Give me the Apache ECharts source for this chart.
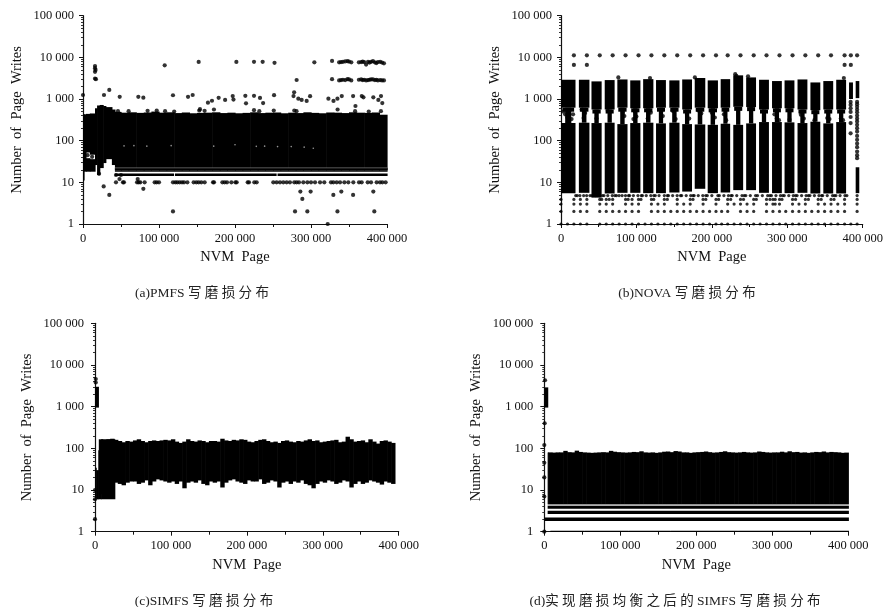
<!DOCTYPE html>
<html><head><meta charset="utf-8">
<script src="https://cdn.jsdelivr.net/npm/echarts@6/dist/echarts.min.js"></script>
<style>html,body{margin:0;padding:0;background:#fff}#c{width:886px;height:607px;filter:blur(0.35px)}</style>
</head><body><div id="c"></div>
<script>
const xTicks = {0:'0',100000:'100 000',200000:'200 000',300000:'300 000',400000:'400 000'};
const yTicks = {1:'1',10:'10',100:'100',1000:'1 000',10000:'10 000',100000:'100 000'};
const captions = ['(a)PMFS 写 磨 损 分 布','(b)NOVA 写 磨 损 分 布','(c)SIMFS 写 磨 损 分 布','(d)实 现 磨 损 均 衡 之 后 的 SIMFS 写 磨 损 分 布'];

/* ---------- (a) PMFS : [xStart,xEnd,low,high] ---------- */
const pmfsTopX40k = [490,470,480,465,475,500,470,480,460,475,455,465,470,480,460,470,455,465,480,460,470,475,455,470,460,480,465,455,475,470,460,480,470,465,475,420];
const pmfsLeftBands = [[0,1300,11,430],[1300,3900,18,430],[3900,9000,18,38],[3900,9000,52,440],[9000,15800,18,36],[9000,15800,46,450],
 [15800,18500,26,600],[18500,22000,15,700],[22000,26500,22,720],[26500,30000,29,680],[30000,38000,36,640],[38000,42000,26,560]];
const pmfsLowBands = [[42000,400000,19.3,22],[42000,400000,17.7,18.4],[42000,119000,14.1,16.3],[121000,254000,14.1,16.3],[256000,400000,14.1,16.3]];
const pmfsGrayBands = [[42000,400000,21.7,22.7]];
const pmfsDots = [[0,1250],[15800,6200],[15800,5500],[15800,4500],[16500,5000],[15800,3100],[17000,3000],[27600,1250],[34600,1650],[48300,1130],[72800,1130],[79400,1080],[107500,6450],[118400,1230],[138200,1130],[144300,1250],[152200,7750],[153900,570],[164400,815],[169700,910],[172300,560],[178500,1070],[187000,950],[197000,1180],[198000,970],[201800,7750],[225000,7800],[236400,7800],[252000,7400],[304400,7600],[327700,8200],[281100,2860],[327700,3000],[213600,1190],[214500,790],[225000,1190],[232900,1060],[237000,800],[251400,1240],[277800,1450],[277000,1180],[283300,1020],[287700,950],[294300,900],[298800,1170],[322900,1020],[329600,900],[334800,1020],[340500,1180],[355400,1180],[366800,1180],[369000,1100],[382000,1100],[388600,950],[392100,1180],[393800,800],[358500,680],
 [337000,7600],[339500,7700],[342000,7800],[345000,8000],[348000,8100],[350000,7900],[353000,7600],[363000,7600],[366000,7700],[368000,7900],[370000,7700],[372500,6700],[375000,7800],[377000,7500],[379000,7800],[381500,8100],[384000,7600],[386000,7300],[388000,7700],[391000,7800],[393500,7500],[396000,7200],
 [337000,2800],[339500,2850],[342000,2900],[345000,2850],[348000,3000],[350000,2950],[353000,2800],[363000,2900],[366000,2950],[368000,2850],[370000,2900],[372500,2800],[375000,2850],[377000,2900],[379000,2950],[381500,2950],[384000,2850],[386000,2900],[388000,2800],[391000,2850],[393500,2800],[396000,2800],
 [27200,8],[34600,5],[79400,7],[118400,2],[21100,16],[48000,12],[43400,15],[50000,15],[72000,12],[286000,6],[299500,6],[288600,4],[329400,5],[339900,6],[355400,5],[382000,6],[279000,2],[295200,2],[334800,2],[383300,2],[322000,1],
 [6000,45],[12000,41],
 [46000,510],[60000,510],[85000,520],[97000,530],[108000,510],[120000,500],[153000,530],[160000,520],[225000,540],[232000,510],[251000,530],[278000,530],[281000,510],[335000,560],[358000,510],[376000,500],[392000,510]];
const pmfsTenRowX = [43400,52600,53900,71100,73200,75400,81100,94300,96900,100000,118400,121500,124100,127200,130300,132900,137300,145600,149100,152200,155700,160100,171100,172400,183400,186400,189500,195200,200500,202200,216700,218400,225400,228500,250400,254800,259200,263600,268000,272300,278000,281100,284200,289900,295200,300000,305300,311900,317500,326300,329400,333800,338200,343900,349100,355700,363200,366700,374600,379000,386400,390800,393900,398200];
const pmfsSpecks = [[54000,75],[67000,76],[84000,74],[116000,76],[172000,74],[200000,80],[228000,73],[239000,74],[256000,72],[274000,72],[291000,70],[303000,66]];

/* ---------- (b) NOVA ---------- */
const novaStart = [0,23700,40400,57960,74700,91800,108900,126000,143600,160700,177300,194500,211700,228400,245500,262600,279800,296400,313600,330700,347800,364900];
const novaEnd   = [18440,36900,53100,70300,87400,104500,121700,138300,156300,172900,190500,207300,223500,240700,257800,274900,292000,308700,325900,343000,360100,377200];
const novaTop   = [2900,2900,2650,2850,2950,2800,3000,2850,2800,2950,3200,2800,3000,3700,3300,2900,2700,2800,2950,2500,2700,2900];
const novaBase  = [5.5,5.6,4.3,5.4,5.6,5.6,5.5,5.5,5.7,6,7,5.5,5.7,6.5,6.5,5.6,5.5,5.5,5.6,5.4,5.4,5.4];
const novaGapLow  = [265,270,265,270,250,265,270,260,270,250,245,240,255,240,260,280,280,275,265,285,260,280];
const novaGapHigh = [620,620,560,560,620,600,600,620,620,560,620,600,620,650,640,560,600,600,560,540,560,560];
const novaTailBands = [[381900,386300,1000,2500],[390700,394700,1050,2700],[390700,394700,5.5,23]];
const novaTopRowX = [17100,34300,51400,68500,85600,102800,119900,137000,154100,171300,188400,205500,221000,238000,255500,272500,289700,307000,324000,341000,358000,376000,384300,392600];
const novaSecondRowX = [17100,34300,376000,384300];
const novaTailDots = [[384000,850],[384000,720],[384000,600],[384000,490],[384000,370],[384000,265],[384000,150],
 [392600,850],[392600,750],[392600,650],[392600,560],[392600,480],[392600,400],[392600,340],[392600,290],[392600,240],[392600,200],[392600,165],[392600,130],[392600,105],[392600,85],[392600,70],[392600,55],[392600,45],[392600,38]];
const novaPeakDots = [[76000,3300],[231000,3950],[232500,3600],[248000,3500],[177500,3300],[118000,3200],[375000,3200]];
const novaGapDots = [[3000,500],[5500,430],[8500,360],[9000,520],[14000,330],[16000,430],[27500,560],[32000,460],[30000,350],[47000,340],[62000,520],[82000,470],[84000,390],[98000,500],[100000,380],[96000,330],[115000,340],[119000,470],[133000,510],[135000,390],[152000,330],[148000,520],[167000,420],[170000,340],[182000,530],[186000,450],[200000,470],[204000,360],[216000,430],[219000,310],[252000,330],[268000,500],[283000,430],[286000,340],[289000,310],[303000,320],[318000,420],[322000,340],[336000,310],[353000,350],[356000,330],[371000,340],[374000,310]];
const novaRow1X = [0,8600,17100,25700,34300,51400,60000,68500,77100,85600,94200,102800,111400,119900,128500,137000,145600,154100,162700,171300,179800,188400,197000,205500,213000,221000,229500,238000,246700,255500,264000,272500,281000,289700,298000,307000,315500,324000,332500,341000,349500,358000,367000,376000,384300,392600];
const novaRow2X = [0,17100,25700,34300,51400,60000,68500,77100,85600,94200,102800,119900,128500,137000,145600,154100,162700,171300,179800,188400,197000,205500,213000,221000,238000,246700,255500,272500,281000,289700,298000,307000,315500,324000,332500,341000,349500,358000,367000,376000,392600];
const novaRow3X = [0,17100,25700,34300,51400,60000,68500,85600,94200,102800,119900,128500,137000,154100,162700,171300,188400,205500,221000,229500,238000,246700,255500,272500,281000,284000,289700,307000,315500,324000,341000,349500,358000,367000,376000,392600];
const novaRow4X = [0,17100,25700,34300,51400,54000,60000,64000,68500,85600,89000,94200,102800,106000,119900,123000,137000,141000,154100,171300,175000,188400,192000,205500,209000,221000,225000,238000,242000,255500,259000,272500,277000,281000,284000,289700,293000,307000,311000,324000,328000,341000,345000,358000,362000,376000,392600];
const novaRow5X = [19500,21500,25000,30000,34000,38500,41000,46000,51000,55000,57000,62000,68000,71500,73500,77000,81000,85500,89500,91000,96000,102000,106500,108000,113000,119000,123000,125000,130000,137000,141000,142500,148000,154000,158500,160000,166000,172000,175000,176500,182000,188000,192000,194000,200000,208000,210000,216000,222000,225500,227000,233000,240000,243000,245000,251000,258000,260500,267000,274000,277000,279000,285000,291000,294000,296000,302000,308000,311000,313000,319000,325000,328000,330000,336000,342000,345500,347000,353000,360000,362500,364500,370000,376500,379000,392600];

/* ---------- (c) SIMFS ---------- */
const simfsTop = [165,160,165,170,160,150,140,150,145,155,165,150,140,150,155,150,155,160,155,165,145,135,145,165,150,145,155,150,140,150,150,145,170,155,150,160,155,165,160,145,140,150,160,165,150,140,145,135,150,155,145,140,150,145,155,165,150,155,140,145,150,155,160,140,145,190,165,145,150,155,140,165,145,130,150,155,145,135];
const simfsBottom = [15,14,13,15,16,16,14,15,17,13,16,18,17,16,15,16,14,16,11,15,16,15,17,14,13,16,15,16,11.5,15,17,18,16,15,14,17,16,16,18,14,15,17,16,11.5,15,16,14,16,15,17,14,13,11,14,16,15,17,16,14,15,17,16,11.5,14,16,14,15,17,16,15,13.5,16,15,14,15,18,17,19,20];
const simfsLeftBands = [[0,1500,6.4,34],[1500,4400,6,30],[4400,8000,6,90],[8000,26000,6,165],[0,4400,950,3000]];
const simfsDots = [[1000,4600],[1000,3800],[0,2],[0,6],[0,10]];

/* ---------- (d) SIMFS after wear levelling ---------- */
const levelTop = [80,80,79,80,80,87,81,80,88,82,80,79,78,79,80,81,80,87,83,81,80,79,80,82,81,85,80,79,80,78,80,83,84,81,86,84,80,80,78,80,81,82,84,81,79,80,82,85,81,80,79,80,82,80,79,80,84,82,80,79,80,80,83,80,85,81,82,79,80,78,80,82,81,84,80,82,81,80,78];
const levelBaseBands = [[4400,400000,3.55,4.2],[4400,400000,2.65,3.2],[0,400000,1.8,2.2],[0,4400,950,2900],
 [8000,52000,0.98,1.05],[53000,110000,0.98,1.05],[111000,165000,0.98,1.05],[166000,254000,0.98,1.05],[255000,400000,0.98,1.05]];
const levelGrayBands = [[4400,400000,4.3,4.55]];
const levelDots = [[1000,4300],[500,400],[0,120],[0,45],[0,20],[0,7],[0,1]];

/* ---------- assembling the four panels ---------- */
const pmfsBands = pmfsLeftBands.concat(pmfsLowBands, pmfsTopX40k.map((t,i)=>[i===0?42000:40000+i*10000,50000+i*10000,19,t]));
const pmfsAllDots = pmfsDots.concat(pmfsTenRowX.map(x=>[x,10]));

const novaBands = novaTailBands.slice();
novaStart.forEach((s,i)=>{
  const e=novaEnd[i], w=e-s;
  novaBands.push([s,e,novaBase[i],novaGapLow[i]],[s,e,novaGapHigh[i],novaTop[i]],
    [s+w*0.3,e-w*0.3,novaGapLow[i],novaGapHigh[i]],[s+w*0.1,e-w*0.1,novaGapHigh[i]*0.8,novaGapHigh[i]]);
});
const novaDots = novaTopRowX.map(x=>[x,11200]).concat(novaSecondRowX.map(x=>[x,6600]),novaTailDots,novaPeakDots,novaGapDots);
const novaSmall = novaRow1X.map(x=>[x,1]).concat(novaRow2X.map(x=>[x,2]),novaRow3X.map(x=>[x,3]),novaRow4X.map(x=>[x,3.9]),novaRow5X.map(x=>[x,4.8]));

const simfsBands = simfsLeftBands.concat(simfsTop.map((t,i)=>{
  const b = i<4 ? 15 : simfsBottom[i-4];
  return [5000+i*5000, 10000+i*5000, i<4?8:b, t];
}));

const levelBands = levelBaseBands.concat(levelTop.map((t,i)=>[i===0?4400:i*5000+0,(i+1)*5000,4.6,t]),[[395000,400000,4.6,79]]);

const panels = [
 {left:83,top:15.7,width:304,height:208.3,bands:pmfsBands,gray:pmfsGrayBands,dots:pmfsAllDots,small:[],white:pmfsSpecks,labelGap:9,nameGap:59,caption:[197,282]},
 {left:561,top:15.7,width:303.7,height:208.3,bands:novaBands,gray:[],dots:novaDots,small:novaSmall,white:[],labelGap:9,nameGap:59,caption:[682,282]},
 {left:95,top:323.3,width:303.7,height:208.4,bands:simfsBands,gray:[],dots:simfsDots,small:[],white:[],labelGap:11,nameGap:61,caption:[199,590]},
 {left:544.3,top:323.3,width:304,height:208.4,bands:levelBands,gray:levelGrayBands,dots:levelDots,small:[],white:[],labelGap:11,nameGap:61,caption:[670,590]}
];

const serif='"Liberation Serif","Noto Sans CJK SC",serif';
const rectItem = (p,api)=>{
  const a=api.coord([api.value(0),api.value(3)]), b=api.coord([api.value(1),api.value(2)]);
  return {type:'rect',shape:{x:a[0],y:a[1],width:b[0]-a[0]+0.6,height:b[1]-a[1]},style:api.style()};
};
const grid=[],xAxis=[],yAxis=[],series=[],title=[];
panels.forEach((p,i)=>{
  grid.push({left:p.left,top:p.top,width:p.width,height:p.height,containLabel:false});
  xAxis.push({type:'value',gridIndex:i,min:0,max:400000,interval:100000,splitLine:{show:false},
    axisLine:{onZero:false,lineStyle:{color:'#111',width:1.2}},axisTick:{length:4,lineStyle:{color:'#111'}},
    minorTick:{show:true,splitNumber:2,length:3,lineStyle:{color:'#111'}},
    axisLabel:{margin:8,color:'#111',fontFamily:serif,fontSize:12.5,hideOverlap:false,showMinLabel:true,showMaxLabel:true,formatter:v=>xTicks[v]},
    name:'NVM\u00a0\u00a0Page',nameLocation:'middle',nameGap:26,nameTextStyle:{color:'#111',fontFamily:serif,fontSize:14.5}});
  yAxis.push({type:'log',gridIndex:i,min:1,max:100000,logBase:10,splitLine:{show:false},
    axisLine:{onZero:false,lineStyle:{color:'#111',width:1.2}},axisTick:{length:4,lineStyle:{color:'#111'}},
    minorTick:{show:true,splitNumber:9,length:2,lineStyle:{color:'#333'}},
    axisLabel:{margin:p.labelGap,color:'#111',fontFamily:serif,fontSize:12.5,hideOverlap:false,formatter:v=>yTicks[Math.round(v)]},
    name:'Number\u00a0\u00a0of\u00a0\u00a0Page\u00a0\u00a0Writes',nameLocation:'middle',nameGap:p.nameGap,nameRotate:90,nameTextStyle:{color:'#111',fontFamily:serif,fontSize:14.5}});
  const base={xAxisIndex:i,yAxisIndex:i,silent:true,animation:false};
  series.push({...base,type:'custom',renderItem:rectItem,data:p.bands,clip:false,itemStyle:{color:'#000'},encode:{x:[0,1],y:[2,3]}});
  if(p.gray.length) series.push({...base,type:'custom',renderItem:rectItem,data:p.gray,clip:false,itemStyle:{color:'#777'},encode:{x:[0,1],y:[2,3]}});
  series.push({...base,type:'scatter',data:p.dots,symbolSize:4.2,clip:false,itemStyle:{color:'#000'}});
  if(p.small.length) series.push({...base,type:'scatter',data:p.small,symbolSize:3.2,clip:false,itemStyle:{color:'#000'}});
  if(p.white.length) series.push({...base,type:'scatter',data:p.white,symbolSize:1.6,clip:false,itemStyle:{color:'#bbb'},z:5});
  title.push({text:captions[i],left:p.caption[0],top:p.caption[1],textAlign:'center',textStyle:{color:'#222',fontFamily:serif,fontWeight:'normal',fontSize:13.5}});
});
const chart=echarts.init(document.getElementById('c'),null,{renderer:'canvas'});
chart.setOption({animation:false,backgroundColor:'#fff',title,grid,xAxis,yAxis,series});
</script></body></html>
